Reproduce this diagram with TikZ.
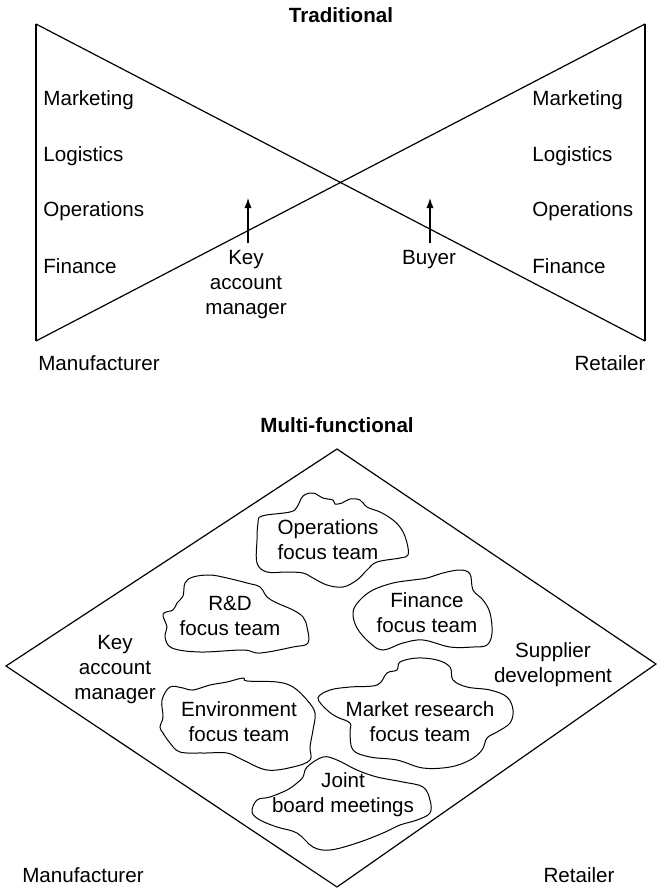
\documentclass[tikz,border=0pt]{standalone}
\usepackage{fontspec}
\setmainfont{Liberation Sans}
\usetikzlibrary{positioning, arrows.meta}

\begin{document}
\begin{tikzpicture}[
  x=0.5pt, y=-0.5pt, >={Latex[length=5pt,width=3.6pt]},
  font=\fontsize{10.3}{12.5}\selectfont,
  lbl/.style={inner sep=0pt, align=center},
  title/.style={lbl, font=\fontsize{10.3}{12.5}\selectfont\bfseries},
  edge/.style={line width=0.6pt},
  blob/.style={line width=0.5pt, smooth cycle, tension=0.6},
  arrow/.style={->, line width=0.6pt, shorten <=3.5pt}
]
\useasboundingbox (0,0) rectangle (660,888);

\node[title] (trad) at (341,15) {Traditional};
\coordinate (tl) at (36,24);
\coordinate (tr) at (645,24);
\coordinate (bl) at (36,341);
\coordinate (br) at (645,341);
\draw[edge] (tl) -- (bl);
\draw[edge] (tr) -- (br);
\draw[edge] (tl) -- (br);
\draw[edge] (tr) -- (bl);

\node[lbl, anchor=west] (lmkt) at (43,100) {Marketing};
\node[lbl, anchor=west] (llog) at (43,156) {Logistics};
\node[lbl, anchor=west] (lops) at (43,211) {Operations};
\node[lbl, anchor=west] (lfin) at (43,266) {Finance};
\node[lbl, anchor=west] (rmkt) at (532,100) {Marketing};
\node[lbl, anchor=west] (rlog) at (532,156) {Logistics};
\node[lbl, anchor=west] (rops) at (532,211) {Operations};
\node[lbl, anchor=west] (rfin) at (532,266) {Finance};

\node[lbl] (kam) at (246,285) {Key\\account\\manager};
\node[lbl] (buyer) at (429,260) {Buyer};
\coordinate (kamtip) at (248,198);
\coordinate (buytip) at (430,198);
\draw[arrow] (kam.north -| kamtip) -- (kamtip);
\draw[arrow] (buyer.north -| buytip) -- (buytip);

\node[lbl] (tman) at (99,363) {Manufacturer};
\node[lbl] (tret) at (610,363) {Retailer};

\node[title] (multi) at (337,425) {Multi-functional};
\coordinate (dt) at (337,449);
\coordinate (dl) at (6,666);
\coordinate (dr) at (656,664);
\coordinate (db) at (337,887);
\draw[edge] (dt) -- (dr) -- (db) -- (dl) -- cycle;

\node[lbl] (bkam) at (115,670) {Key\\account\\manager};
\node[lbl] (supp) at (553,665) {Supplier\\development};
\node[lbl] (bman) at (83,875) {Manufacturer};
\node[lbl] (bret) at (579,875) {Retailer};

\node[lbl] (ops) at (328,540) {Operations\\focus team};
\node[lbl] (rnd) at (230,616) {R\&D\\focus team};
\node[lbl] (fin) at (427,613) {Finance\\focus team};
\node[lbl] (env) at (239,722) {Environment\\focus team};
\node[lbl] (mkt) at (420,722) {Market research\\focus team};
\node[lbl] (jbm) at (343,795) {Joint\\board meetings};

\draw[blob] plot coordinates {(262,516) (290,512) (297,507) (303,496) (313,493) (323,498) (333,500) (335,504) (342,503) (350,499) (360,500) (367,507) (380,512) (393,520) (402,530) (407,543) (408,555) (400,558) (377,562) (367,570) (357,580) (343,587) (327,585) (313,578) (303,573) (287,572) (267,572) (257,563) (257,540) (258,523)};
\draw[blob] plot coordinates {(185,583) (193,577) (210,575) (227,578) (247,583) (260,587) (267,597) (277,603) (293,610) (303,617) (307,627) (308,643) (293,647) (260,653) (243,650) (200,652) (172,648) (165,637) (167,627) (163,614) (173,610) (177,603) (183,596)};
\draw[blob] plot coordinates {(360,600) (373,590) (393,583) (413,580) (427,578) (443,573) (460,570) (470,574) (473,590) (483,600) (490,613) (492,633) (487,645) (473,647) (450,647) (423,640) (403,643) (383,650) (370,643) (357,628) (353,612)};
\draw[blob] plot coordinates {(170,687) (183,688) (193,690) (210,685) (227,682) (243,678) (247,681) (277,682) (293,687) (307,700) (315,713) (313,730) (310,747) (310,760) (293,767) (267,770) (243,760) (227,753) (203,753) (180,752) (170,743) (163,733) (160,727) (163,717) (162,700)};
\draw[blob] plot coordinates {(318,698) (330,690) (350,687) (377,685) (387,673) (397,670) (400,662) (417,658) (437,660) (450,667) (453,680) (467,687) (490,690) (507,697) (513,710) (510,723) (497,732) (487,738) (482,750) (470,760) (450,767) (423,768) (397,760) (370,757) (353,750) (350,733) (350,723) (337,717) (327,710)};
\draw[blob] plot coordinates {(303,777) (307,767) (323,757) (337,760) (357,770) (377,777) (403,782) (423,787) (430,800) (430,813) (417,820) (400,825) (383,833) (357,843) (330,850) (313,847) (297,833) (277,827) (260,820) (252,812) (257,800) (270,797) (287,790) (297,783)};

\end{tikzpicture}
\end{document}
